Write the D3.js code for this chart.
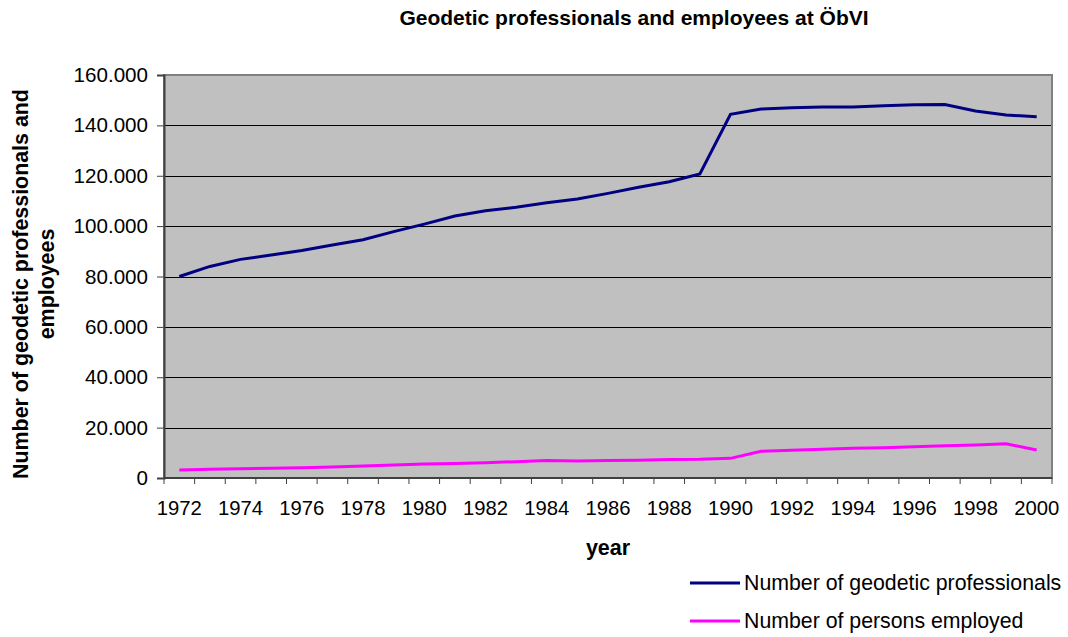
<!DOCTYPE html>
<meta charset="utf-8">
<style>
body { margin: 0; background: #fff; }
text { font-family: "Liberation Sans", Arial, sans-serif; }
.grid line { stroke: #000; stroke-width: 1px; }
</style>
<svg width="1068" height="637"></svg>
<script src="https://cdn.jsdelivr.net/npm/d3@7"></script>
<script>

var years = d3.range(1972, 2001)
var professionals = [80000, 84000, 86800, 88500, 90300, 92500, 94600, 97800, 100800, 104000,
  106100, 107500, 109300, 110800, 113000, 115400, 117600, 120700, 144400, 146500,
  147000, 147300, 147300, 147800, 148200, 148300, 145700, 144100, 143400]
var employed = [3200, 3450, 3700, 3900, 4100, 4400, 4750, 5150, 5550, 5800,
  6100, 6500, 6900, 6750, 6900, 7000, 7300, 7400, 7800, 10600,
  11000, 11400, 11800, 12000, 12400, 12800, 13100, 13600, 11100]
var yTicks = [0, 20000, 40000, 60000, 80000, 100000, 120000, 140000, 160000]

var svg = d3.select("svg")
var margin = {left: 164, top: 75, right: 1052, bottom: 478}

var x = d3.scaleBand()
    .domain(years)
    .range([margin.left, margin.right])

var y = d3.scaleLinear()
    .domain([0, 160000])
    .range([margin.bottom, margin.top])

var fmt = function(d) { return d === 0 ? "0" : d3.format(",")(d).replace(/,/g, ".") }

// plot background
svg.append("rect")
    .attr("x", margin.left)
    .attr("y", margin.top)
    .attr("width", margin.right - margin.left)
    .attr("height", margin.bottom - margin.top)
    .attr("fill", "#c0c0c0")

// gridlines
svg.append("g")
    .attr("class", "grid")
  .selectAll("line")
  .data(yTicks.slice(1, -1))
  .enter().append("line")
    .attr("x1", margin.left)
    .attr("x2", margin.right)
    .attr("y1", function(d) { return Math.round(y(d)) + 0.5 })
    .attr("y2", function(d) { return Math.round(y(d)) + 0.5 })

// border
svg.append("rect")
    .attr("x", margin.left)
    .attr("y", margin.top)
    .attr("width", margin.right - margin.left)
    .attr("height", margin.bottom - margin.top)
    .attr("fill", "none")
    .attr("stroke", "#808080")
    .attr("stroke-width", 2)

// y axis
var yAxis = svg.append("g")
    .attr("transform", "translate(" + margin.left + ",0)")
    .call(d3.axisLeft(y).tickValues(yTicks).tickFormat(fmt).tickSize(7).tickPadding(9))
yAxis.select(".domain").attr("stroke", "#404040").attr("stroke-width", 2)
yAxis.selectAll(".tick line").attr("stroke", "#404040")
yAxis.selectAll("text").style("font-size", "20.6px").attr("fill", "#000")
    .style("font-family", "'Liberation Sans', Arial, sans-serif")

// x axis: tick marks at band edges, labels every 2nd year
var xg = svg.append("g")
xg.append("line")
    .attr("x1", margin.left).attr("x2", margin.right)
    .attr("y1", margin.bottom).attr("y2", margin.bottom)
    .attr("stroke", "#404040").attr("stroke-width", 2)
xg.selectAll(".xt")
  .data(years.concat([2001]))
  .enter().append("line")
    .attr("class", "xt")
    .attr("x1", function(d) { return d === 2001 ? margin.right : x(d) })
    .attr("x2", function(d) { return d === 2001 ? margin.right : x(d) })
    .attr("y1", margin.bottom)
    .attr("y2", margin.bottom + 6)
    .attr("stroke", "#404040")
xg.selectAll(".xl")
  .data(years.filter(function(d) { return d % 2 === 0 }))
  .enter().append("text")
    .attr("class", "xl")
    .attr("x", function(d) { return x(d) + x.bandwidth() / 2 })
    .attr("y", 515)
    .attr("text-anchor", "middle")
    .style("font-size", "20.3px")
    .text(function(d) { return d })

// lines
var line = function(vals) {
  return d3.line()
    .x(function(d, i) { return x(years[i]) + x.bandwidth() / 2 })
    .y(function(d) { return y(d) })(vals)
}
svg.append("path")
    .attr("d", line(professionals))
    .attr("fill", "none")
    .attr("stroke", "#000080")
    .attr("stroke-width", 3)
svg.append("path")
    .attr("d", line(employed))
    .attr("fill", "none")
    .attr("stroke", "#ff00ff")
    .attr("stroke-width", 3)

// title
svg.append("text")
    .attr("x", 634)
    .attr("y", 25)
    .attr("text-anchor", "middle")
    .style("font-size", "21px")
    .style("font-weight", "bold")
    .text("Geodetic professionals and employees at ÖbVI")

// axis titles
svg.append("text")
    .attr("x", 608)
    .attr("y", 555)
    .attr("text-anchor", "middle")
    .style("font-size", "21.5px")
    .style("font-weight", "bold")
    .text("year")

var yt = svg.append("text")
    .attr("transform", "translate(28,284) rotate(-90)")
    .attr("text-anchor", "middle")
    .style("font-size", "21.4px")
    .style("font-weight", "bold")
yt.append("tspan").attr("x", 0).attr("dy", 0).text("Number of geodetic professionals and")
yt.append("tspan").attr("x", 0).attr("dy", 26).text("employees")

// legend
var legend = [
  {name: "Number of geodetic professionals", color: "#000080"},
  {name: "Number of persons employed", color: "#ff00ff"}
]
var lg = svg.selectAll(".legend")
  .data(legend)
  .enter().append("g")
    .attr("class", "legend")
    .attr("transform", function(d, i) { return "translate(690," + (583 + i * 38) + ")" })
lg.append("line")
    .attr("x1", 0).attr("x2", 50)
    .attr("stroke", function(d) { return d.color })
    .attr("stroke-width", 3)
lg.append("text")
    .attr("x", 54)
    .attr("y", 7)
    .style("font-size", "21.3px")
    .text(function(d) { return d.name })

</script>
